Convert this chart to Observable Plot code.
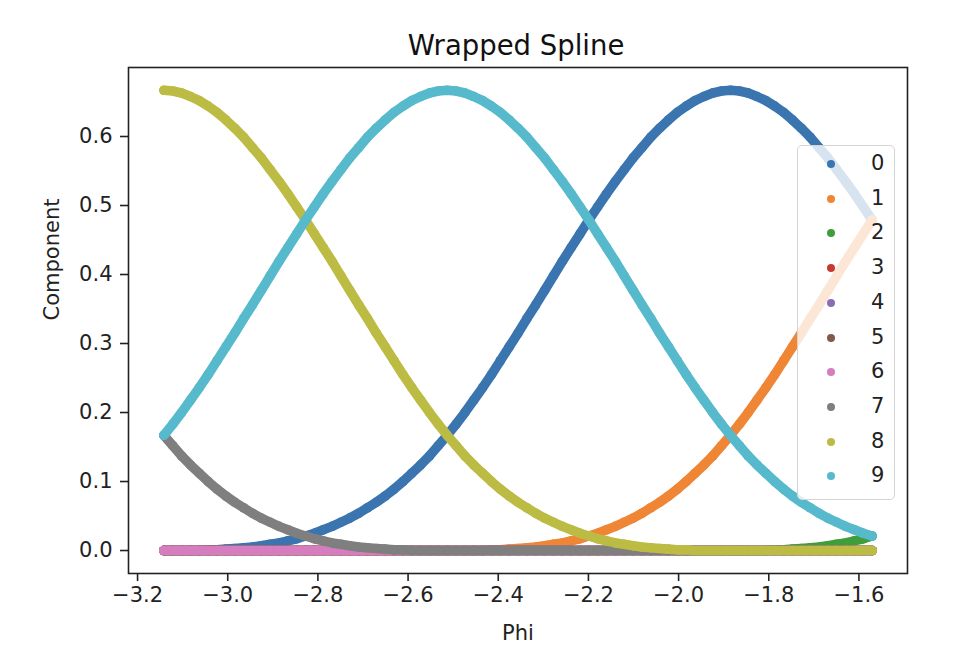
<!DOCTYPE html>
<html><head><meta charset="utf-8">
<script src="https://cdn.jsdelivr.net/npm/d3@7"></script>
<script src="https://cdn.jsdelivr.net/npm/@observablehq/plot@0.6"></script>
<style>
body{margin:0;background:#fff;font-family:"DejaVu Sans",sans-serif;}
#wrap{position:relative;width:972px;height:656px;overflow:hidden;background:#fff;}
#title{position:relative;height:62px;width:972px;}
#title span{position:absolute;left:516px;top:45px;transform:translate(-50%,-50%);font-size:27.5px;color:#111;white-space:nowrap;}
#legend{position:absolute;left:797px;top:145px;width:98px;height:355px;box-sizing:border-box;border:1.5px solid #d4d4d4;border-radius:5px;background:rgba(255,255,255,0.8);}
.dot{position:absolute;width:8px;height:8px;border-radius:50%;margin-left:-4px;margin-top:-4px;}
.lab{position:absolute;font-size:21px;color:#222;line-height:21px;margin-top:-11px;}
</style></head>
<body><div id="wrap"><div id="title"><span>Wrapped Spline</span></div><div id="chart"></div><div id="legend"></div></div>
<script>
const seriesNames = ["0","1","2","3","4","5","6","7","8","9"];
const seriesColors = ["#3a75b0","#ef8636","#3f9e3a","#c53a32","#8d6bb8","#84584d","#d57dbf","#7f7f7f","#bcbc45","#56bacc"];
const xTicks = [-3.2,-3.0,-2.8,-2.6,-2.4,-2.2,-2.0,-1.8,-1.6];
const yTicks = [0.0,0.1,0.2,0.3,0.4,0.5,0.6];

const phi = [
-3.1416,-3.1220,-3.1023,-3.0827,-3.0631,-3.0434,-3.0238,-3.0041,-2.9845,-2.9649,-2.9452,-2.9256,-2.9060,-2.8863,-2.8667,-2.8471,
-2.8274,-2.8078,-2.7882,-2.7685,-2.7489,-2.7293,-2.7096,-2.6900,-2.6704,-2.6507,-2.6311,-2.6114,-2.5918,-2.5722,-2.5525,-2.5329,
-2.5133,-2.4936,-2.4740,-2.4544,-2.4347,-2.4151,-2.3955,-2.3758,-2.3562,-2.3366,-2.3169,-2.2973,-2.2777,-2.2580,-2.2384,-2.2187,
-2.1991,-2.1795,-2.1598,-2.1402,-2.1206,-2.1009,-2.0813,-2.0617,-2.0420,-2.0224,-2.0028,-1.9831,-1.9635,-1.9439,-1.9242,-1.9046,
-1.8850,-1.8653,-1.8457,-1.8261,-1.8064,-1.7868,-1.7671,-1.7475,-1.7279,-1.7082,-1.6886,-1.6690,-1.6493,-1.6297,-1.6101,-1.5904,
-1.5708];

const comp0 = [
0,0,0,0,0,0.001,0.001,0.002,0.003,0.004,0.005,0.007,0.009,0.011,0.014,0.017,
0.021,0.025,0.030,0.035,0.041,0.047,0.054,0.062,0.070,0.079,0.089,0.100,0.112,0.124,0.137,0.152,
0.167,0.183,0.200,0.218,0.236,0.255,0.275,0.295,0.315,0.336,0.356,0.377,0.398,0.419,0.439,0.459,
0.479,0.498,0.517,0.535,0.552,0.569,0.584,0.599,0.612,0.624,0.635,0.644,0.652,0.658,0.663,0.666,
0.667,0.666,0.663,0.658,0.652,0.644,0.635,0.624,0.612,0.599,0.584,0.569,0.552,0.535,0.517,0.498,
0.479];
const comp1 = [
0,0,0,0,0,0,0,0,0,0,0,0,0,0,0,0,
0,0,0,0,0,0,0,0,0,0,0,0,0,0,0,0,
0,0,0,0,0,0.001,0.001,0.002,0.003,0.004,0.005,0.007,0.009,0.011,0.014,0.017,
0.021,0.025,0.030,0.035,0.041,0.047,0.054,0.062,0.070,0.079,0.089,0.100,0.112,0.124,0.137,0.152,
0.167,0.183,0.200,0.218,0.236,0.255,0.275,0.295,0.315,0.336,0.356,0.377,0.398,0.419,0.439,0.459,
0.479];
const comp2 = [
0,0,0,0,0,0,0,0,0,0,0,0,0,0,0,0,
0,0,0,0,0,0,0,0,0,0,0,0,0,0,0,0,
0,0,0,0,0,0,0,0,0,0,0,0,0,0,0,0,
0,0,0,0,0,0,0,0,0,0,0,0,0,0,0,0,
0,0,0,0,0,0.001,0.001,0.002,0.003,0.004,0.005,0.007,0.009,0.011,0.014,0.017,
0.021];
const comp3 = [
0,0,0,0,0,0,0,0,0,0,0,0,0,0,0,0,
0,0,0,0,0,0,0,0,0,0,0,0,0,0,0,0,
0,0,0,0,0,0,0,0,0,0,0,0,0,0,0,0,
0,0,0,0,0,0,0,0,0,0,0,0,0,0,0,0,
0,0,0,0,0,0,0,0,0,0,0,0,0,0,0,0,
0];
const comp4 = [
0,0,0,0,0,0,0,0,0,0,0,0,0,0,0,0,
0,0,0,0,0,0,0,0,0,0,0,0,0,0,0,0,
0,0,0,0,0,0,0,0,0,0,0,0,0,0,0,0,
0,0,0,0,0,0,0,0,0,0,0,0,0,0,0,0,
0,0,0,0,0,0,0,0,0,0,0,0,0,0,0,0,
0];
const comp5 = [
0,0,0,0,0,0,0,0,0,0,0,0,0,0,0,0,
0,0,0,0,0,0,0,0,0,0,0,0,0,0,0,0,
0,0,0,0,0,0,0,0,0,0,0,0,0,0,0,0,
0,0,0,0,0,0,0,0,0,0,0,0,0,0,0,0,
0,0,0,0,0,0,0,0,0,0,0,0,0,0,0,0,
0];
const comp6 = [
0,0,0,0,0,0,0,0,0,0,0,0,0,0,0,0,
0,0,0,0,0,0,0,0,0,0,0,0,0,0,0,0,
0,0,0,0,0,0,0,0,0,0,0,0,0,0,0,0,
0,0,0,0,0,0,0,0,0,0,0,0,0,0,0,0,
0,0,0,0,0,0,0,0,0,0,0,0,0,0,0,0,
0];
const comp7 = [
0.167,0.152,0.137,0.124,0.112,0.100,0.089,0.079,0.070,0.062,0.054,0.047,0.041,0.035,0.030,0.025,
0.021,0.017,0.014,0.011,0.009,0.007,0.005,0.004,0.003,0.002,0.001,0.001,0,0,0,0,
0,0,0,0,0,0,0,0,0,0,0,0,0,0,0,0,
0,0,0,0,0,0,0,0,0,0,0,0,0,0,0,0,
0,0,0,0,0,0,0,0,0,0,0,0,0,0,0,0,
0];
const comp8 = [
0.667,0.666,0.663,0.658,0.652,0.644,0.635,0.624,0.612,0.599,0.584,0.569,0.552,0.535,0.517,0.498,
0.479,0.459,0.439,0.419,0.398,0.377,0.356,0.336,0.315,0.295,0.275,0.255,0.236,0.218,0.200,0.183,
0.167,0.152,0.137,0.124,0.112,0.100,0.089,0.079,0.070,0.062,0.054,0.047,0.041,0.035,0.030,0.025,
0.021,0.017,0.014,0.011,0.009,0.007,0.005,0.004,0.003,0.002,0.001,0.001,0,0,0,0,
0,0,0,0,0,0,0,0,0,0,0,0,0,0,0,0,
0];
const comp9 = [
0.167,0.183,0.200,0.218,0.236,0.255,0.275,0.295,0.315,0.336,0.356,0.377,0.398,0.419,0.439,0.459,
0.479,0.498,0.517,0.535,0.552,0.569,0.584,0.599,0.612,0.624,0.635,0.644,0.652,0.658,0.663,0.666,
0.667,0.666,0.663,0.658,0.652,0.644,0.635,0.624,0.612,0.599,0.584,0.569,0.552,0.535,0.517,0.498,
0.479,0.459,0.439,0.419,0.398,0.377,0.356,0.336,0.315,0.295,0.275,0.255,0.236,0.218,0.200,0.183,
0.167,0.152,0.137,0.124,0.112,0.100,0.089,0.079,0.070,0.062,0.054,0.047,0.041,0.035,0.030,0.025,
0.021];

const components = [comp0,comp1,comp2,comp3,comp4,comp5,comp6,comp7,comp8,comp9];
const tables = components.map((vals, s) => vals.map((v, i) => ({phi: phi[i], value: v, series: seriesNames[s]})));

const marks = [];
tables.forEach(t => {
  marks.push(Plot.line(t, {x: "phi", y: "value", stroke: "series", strokeWidth: 9.6, strokeLinecap: "round", strokeLinejoin: "round"}));
  marks.push(Plot.dot(t, {x: "phi", y: "value", fill: "series", r: 4.8}));
});

const plot = Plot.plot({
  width: 972, height: 594,
  marginLeft: 128, marginRight: 65, marginTop: 5, marginBottom: 83,
  style: {fontFamily: "DejaVu Sans", fontSize: "21px", color: "#222", background: "white"},
  x: {domain: [-3.2201, -1.4923]},
  y: {domain: [-0.0333, 0.7]},
  color: {domain: seriesNames, range: seriesColors},
  marks: [
    ...marks,
    Plot.axisX({ticks: xTicks, tickFormat: d3.format(".1f"), tickSize: 8, tickPadding: 6, strokeWidth: 1.6, label: null}),
    Plot.axisY({ticks: yTicks, tickFormat: d3.format(".1f"), tickSize: 8, tickPadding: 8, strokeWidth: 1.6, label: null}),
    Plot.text(["Phi"], {text: d => d, frameAnchor: "bottom", dy: 60, fontSize: 21, lineAnchor: "middle", fill: "#222"}),
    Plot.text(["Component"], {text: d => d, frameAnchor: "left", dx: -76, rotate: -90, fontSize: 21, lineAnchor: "middle", fill: "#222"}),
    Plot.frame({stroke: "#222", strokeWidth: 1.6})
  ]
});
document.getElementById("chart").appendChild(plot);

const leg = document.getElementById("legend");
const cs = plot.scale("color");
cs.domain.forEach((name, k) => {
  const top = 18 + 34.7 * k;
  const d = document.createElement("div");
  d.className = "dot"; d.style.left = "33px"; d.style.top = top + "px"; d.style.background = cs.range[k];
  leg.appendChild(d);
  const l = document.createElement("div");
  l.className = "lab"; l.style.left = "73px"; l.style.top = top + "px"; l.textContent = name;
  leg.appendChild(l);
});
</script></body></html>
